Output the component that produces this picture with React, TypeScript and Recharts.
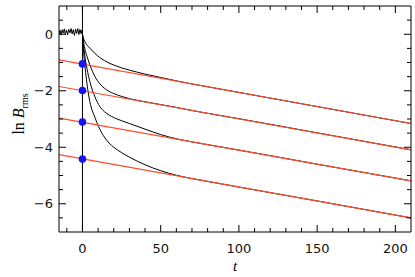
import { ComposedChart, Line, Scatter, XAxis, YAxis, ReferenceLine } from 'recharts';

// time grid shared by the four decaying runs
const tGrid = [0, 0.5, 1, 2, 3, 4.7, 8, 11, 14, 17, 20, 25, 30, 40, 50, 60, 70, 80, 100, 150, 210];
const run1 = [0, -0.12, -0.2, -0.31, -0.39, -0.49, -0.68, -0.82, -0.93, -1.02, -1.09, -1.19, -1.27, -1.41, -1.53, -1.65, -1.76, -1.86, -2.06, -2.56, -3.16];
const run2 = [0, -0.22, -0.38, -0.62, -0.8, -1.08, -1.5, -1.75, -1.91, -2.02, -2.1, -2.2, -2.28, -2.39, -2.49, -2.59, -2.7, -2.8, -2.99, -3.49, -4.09];
const run3 = [0, -0.3, -0.55, -0.95, -1.25, -1.67, -2.22, -2.55, -2.74, -2.86, -2.95, -3.06, -3.16, -3.36, -3.55, -3.7, -3.81, -3.91, -4.1, -4.6, -5.19];
const run4 = [0, -0.45, -0.8, -1.35, -1.8, -2.38, -2.95, -3.35, -3.64, -3.85, -4.0, -4.19, -4.35, -4.62, -4.83, -4.99, -5.11, -5.21, -5.41, -5.9, -6.5];

// saturated phase before the switch-off at t = 0
const noiseT = [-15, -14.3, -13.6, -13, -12.3, -11.6, -11, -10.2, -9.5, -8.8, -8, -7.3, -6.6, -5.9, -5.1, -4.4, -3.7, -3, -2.3, -1.6, -0.9, -0.3, 0];
const noiseV = [0.0, 0.14, -0.03, 0.16, 0.04, 0.19, 0.0, 0.15, -0.02, 0.17, 0.05, 0.2, 0.01, 0.16, -0.04, 0.18, 0.03, 0.2, -0.01, 0.17, 0.02, 0.15, 0];

// exponential-decay fits (straight in ln)
const fitT = [-15, 210];
const fit1 = [-0.91, -3.16];
const fit2 = [-1.85, -4.09];
const fit3 = [-2.97, -5.19];
const fit4 = [-4.26, -6.5];

const startV = [-1.05, -1.99, -3.11, -4.42];

const xMajor = [0, 50, 100, 150, 200];
const xTicks = [-10, 0, 10, 20, 30, 40, 50, 60, 70, 80, 90, 100, 110, 120, 130, 140, 150, 160, 170, 180, 190, 200];
const yMajor = [-6, -4, -2, 0];
const yTicks = [-6.5, -6, -5.5, -5, -4.5, -4, -3.5, -3, -2.5, -2, -1.5, -1, -0.5, 0, 0.5];

const toPts = (ts: number[], vs: number[]) => ts.map((t, i) => ({ t, v: vs[i] }));

const runs = [run1, run2, run3, run4].map((r) => toPts(tGrid, r));
const fits = [fit1, fit2, fit3, fit4].map((f) => toPts(fitT, f));
const noise = toPts(noiseT, noiseV);
const starts = startV.map((v) => ({ t: 0, v }));

const RED = '#ff4b2b';
const FONT = 'DejaVu Sans';
const fmt = (v: number) => (v < 0 ? '\u2212' + Math.abs(v) : String(v));

// tick marks point into the plot, like the IDL box axes
const BottomTick = (p: any) => {
  const major = xMajor.includes(p.payload.value);
  return (
    <g>
      <line x1={p.x} x2={p.x} y1={p.y} y2={p.y - (major ? 7 : 4)} stroke="#000" />
      {major && (
        <text x={p.x} y={p.y + 21} textAnchor="middle" fontFamily={FONT} fontSize={13} fill="#111">
          {fmt(p.payload.value)}
        </text>
      )}
    </g>
  );
};
const TopTick = (p: any) => {
  const major = xMajor.includes(p.payload.value);
  return <line x1={p.x} x2={p.x} y1={p.y} y2={p.y + (major ? 7 : 4)} stroke="#000" />;
};
const LeftTick = (p: any) => {
  const major = yMajor.includes(p.payload.value);
  return (
    <g>
      <line x1={p.x} x2={p.x + (major ? 7 : 4)} y1={p.y} y2={p.y} stroke="#000" />
      {major && (
        <text x={p.x - 6} y={p.y + 4.5} textAnchor="end" fontFamily={FONT} fontSize={13} fill="#111">
          {fmt(p.payload.value)}
        </text>
      )}
    </g>
  );
};
const RightTick = (p: any) => {
  const major = yMajor.includes(p.payload.value);
  return <line x1={p.x} x2={p.x - (major ? 7 : 4)} y1={p.y} y2={p.y} stroke="#000" />;
};

const App = () => {
  return (
    <div style={{ position: 'absolute', left: 0, top: 0, width: 415, height: 277, background: '#fff' }}>
      <ComposedChart width={415} height={277} margin={{ top: 0, right: 0, left: 0, bottom: 0 }}>
        <XAxis xAxisId="x" type="number" dataKey="t" domain={[-15, 210]} allowDataOverflow ticks={xTicks} interval={0}
          orientation="bottom" height={45} tickLine={false} tickSize={0} tickMargin={0} tick={BottomTick} stroke="#000"
          label={{ value: 't', position: 'insideBottom', offset: 6, style: { fontFamily: 'Liberation Serif', fontStyle: 'italic', fontSize: 15, fill: '#000' } }} />
        <XAxis xAxisId="top" type="number" dataKey="t" domain={[-15, 210]} allowDataOverflow ticks={xTicks} interval={0}
          orientation="top" height={6} tickLine={false} tickSize={0} tickMargin={0} tick={TopTick} stroke="#000" />
        <YAxis yAxisId="y" type="number" domain={[-7, 1]} allowDataOverflow ticks={yTicks} interval={0}
          orientation="left" width={59} tickLine={false} tickSize={0} tickMargin={0} tick={LeftTick} stroke="#000" />
        <YAxis yAxisId="right" type="number" domain={[-7, 1]} allowDataOverflow ticks={yTicks} interval={0}
          orientation="right" width={4} tickLine={false} tickSize={0} tickMargin={0} tick={RightTick} stroke="#000" />

        <ReferenceLine xAxisId="x" yAxisId="y" x={0} stroke="#000" strokeWidth={1} />

        <Line xAxisId="x" yAxisId="y" data={noise} dataKey="v" type="linear" stroke="#000" strokeWidth={1} dot={false} isAnimationActive={false} />
        {runs.map((d, i) => (
          <Line key={'run' + i} xAxisId="x" yAxisId="y" data={d} dataKey="v" type="monotone" stroke="#000" strokeWidth={1} dot={false} isAnimationActive={false} />
        ))}
        {fits.map((d, i) => (
          <Line key={'fit' + i} xAxisId="x" yAxisId="y" data={d} dataKey="v" type="linear" stroke={RED} strokeWidth={1.2} dot={false} isAnimationActive={false} />
        ))}
        <Scatter xAxisId="x" yAxisId="y" data={starts} dataKey="v" fill="#1414f0" isAnimationActive={false}
          shape={(p: any) => <circle cx={p.cx} cy={p.cy} r={3.8} fill="#1414f0" />} />
      </ComposedChart>
      <div style={{
        position: 'absolute', left: 20, top: 114, transform: 'translate(-50%, -50%) rotate(-90deg)',
        fontFamily: 'Liberation Serif', fontSize: 16, whiteSpace: 'nowrap', color: '#000',
      }}>
        ln <i>B</i><sub style={{ fontSize: 10 }}>rms</sub>
      </div>
    </div>
  );
};

export default App;
